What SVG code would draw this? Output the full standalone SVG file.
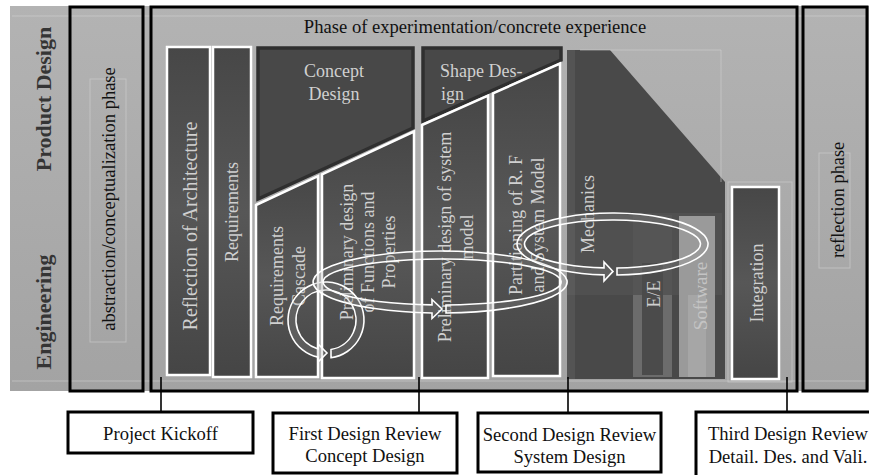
<svg xmlns="http://www.w3.org/2000/svg" width="869" height="475" viewBox="0 0 869 475">
<defs>
<linearGradient id="bg" x1="0" y1="0" x2="0" y2="1">
<stop offset="0" stop-color="#b3b3b3"/>
<stop offset="1" stop-color="#a3a3a3"/>
</linearGradient>
<linearGradient id="colg" x1="0" y1="0" x2="0" y2="1">
<stop offset="0" stop-color="#474747"/>
<stop offset="0.5" stop-color="#575757"/>
<stop offset="1" stop-color="#454545"/>
</linearGradient>
<style>
.frame{fill:none;stroke:#000;stroke-width:3}
.col{fill:url(#colg);stroke:#fff;stroke-width:2.5}
.dark{fill:#484848;stroke:#2f2f2f;stroke-width:3.5;stroke-linejoin:miter}
.lbl{font-family:"Liberation Serif","Times New Roman",serif;font-size:18px;fill:#d0d0d0}
.blk{font-family:"Liberation Serif","Times New Roman",serif;font-size:18.6px;fill:#111}
.side{font-family:"Liberation Serif","Times New Roman",serif;font-weight:bold;font-size:22px;fill:#353535}
.box{fill:#fff;stroke:#000;stroke-width:3}
.conn{stroke:#000;stroke-width:1.6;fill:none}
.ring{fill:#9a9a9a;fill-opacity:0.22;stroke:#fff;stroke-width:1.6;stroke-linejoin:miter}
.faint{stroke:#d4d4d4;stroke-width:1;fill:none;opacity:0.55}
</style>
</defs>

<g id="background">
<rect x="10" y="6" width="859" height="385" fill="url(#bg)"/>
<line class="faint" x1="12" y1="16" x2="866" y2="16"/>
<line class="faint" x1="12" y1="381" x2="866" y2="381"/>
</g>

<g id="side-labels">
<text class="side" transform="translate(43,99) rotate(-90)" text-anchor="middle" y="7.7">Product Design</text>
<text class="side" transform="translate(43,312) rotate(-90)" text-anchor="middle" y="7.7">Engineering</text>
</g>

<g id="abstraction-phase">
<rect class="frame" x="70" y="7" width="73" height="384"/>
<rect class="faint" x="90" y="79" width="36" height="263"/>
<text class="blk" transform="translate(108,199) rotate(-90)" text-anchor="middle" y="6.5" style="font-size:18.5px">abstraction/conceptualization phase</text>
</g>

<g id="experimentation-phase">
<rect class="frame" x="151" y="7" width="646" height="384"/>
<text class="blk" x="475" y="33" text-anchor="middle" style="font-size:18.6px">Phase of experimentation/concrete experience</text>
</g>

<g id="reflection-phase">
<rect class="frame" x="803" y="7" width="64" height="384"/>
<rect class="faint" x="819" y="153" width="31" height="115"/>
<text class="blk" transform="translate(838,200) rotate(-90)" text-anchor="middle" y="6.4" style="font-size:18.3px">reflection phase</text>
</g>

<g id="reflection-architecture">
<rect class="col" x="167" y="47" width="43" height="328"/>
<text class="lbl" transform="translate(190,226) rotate(-90)" text-anchor="middle" y="7" style="font-size:20px">Reflection of Architecture</text>
</g>

<g id="requirements">
<rect class="col" x="213" y="47" width="38" height="330"/>
<text class="lbl" transform="translate(232,212) rotate(-90)" text-anchor="middle" y="6.3">Requirements</text>
</g>

<g id="concept-design">
<polygon class="dark" points="258,48 413,48 413,128 258,199"/>
<text class="lbl" x="334" y="77" text-anchor="middle">Concept</text>
<text class="lbl" x="334" y="100" text-anchor="middle">Design</text>
</g>

<g id="shape-design">
<polygon class="dark" points="423,48 561,48 561,60 423,121"/>
<text class="lbl" x="440" y="77">Shape Des-</text>
<text class="lbl" x="441" y="100">ign</text>
</g>

<g id="requirements-cascade">
<polygon class="col" points="256,205 318,176.2 318,377 256,377"/>
<text class="lbl" transform="translate(288,276) rotate(-90)" text-anchor="middle"><tspan x="0" y="-4.7">Requirements</tspan><tspan x="0" y="17.3">Cascade</tspan></text>
</g>

<g id="preliminary-design-functions">
<polygon class="col" points="322,174.3 414,131.5 414,378 322,378"/>
<text class="lbl" transform="translate(368,252) rotate(-90)" text-anchor="middle"><tspan x="0" y="-14.7">Preliminary design</tspan><tspan x="0" y="6.3">of Functions and</tspan><tspan x="0" y="27.3">Properties</tspan></text>
</g>

<g id="preliminary-design-system">
<polygon class="col" points="422,125 488,95.6 488,378 422,378"/>
<text class="lbl" transform="translate(456,237) rotate(-90)" text-anchor="middle"><tspan x="0" y="-4.7">Preliminary design of system</tspan><tspan x="0" y="17.3">model</tspan></text>
</g>

<g id="partitioning">
<polygon class="col" points="493,93.4 560,63.5 560,376 493,376"/>
<text class="lbl" transform="translate(527,225) rotate(-90)" text-anchor="middle"><tspan x="0" y="-4.7">Partitioning of R. F</tspan><tspan x="0" y="17.3">and System Model</tspan></text>
</g>

<g id="mechanics">
<polygon points="567,50 610,50 725,182 725,379 567,379" fill="#494949"/>
<rect x="567" y="50" width="8" height="329" fill="#545454"/>
<polyline class="faint" points="580,50 721,50 721,182"/>
<rect x="567" y="213" width="155" height="82" fill="#ffffff" fill-opacity="0.04"/>
<text class="lbl" transform="translate(588,214) rotate(-90)" text-anchor="middle" y="6.3">Mechanics</text>
</g>

<g id="ee">
<rect x="633" y="215" width="39" height="80" fill="#555555"/>
<rect x="633" y="295" width="39" height="82" fill="#6c6c6c"/>
<rect x="642" y="263" width="21" height="112" fill="#4b4b4b"/>
<text class="lbl" transform="translate(654,294) rotate(-90)" text-anchor="middle" y="6.3">E/E</text>
</g>

<g id="software">
<rect x="679" y="216" width="36" height="161" fill="#9a9a9a"/>
<rect x="688" y="295" width="18" height="82" fill="#a6a6a6"/>
<text class="lbl" transform="translate(700,296) rotate(-90)" text-anchor="middle" y="6.6" style="font-size:19px;fill:#c4c4c4">Software</text>
</g>

<g id="integration">
<rect class="faint" x="728" y="182" width="64" height="200"/>
<rect class="col" x="732" y="187" width="47" height="192"/>
<text class="lbl" transform="translate(757,283) rotate(-90)" text-anchor="middle" y="6.3">Integration</text>
</g>

<g id="iteration-arrows">
<path class="ring" d="M331,357.67 A38,38 0 1 0 318,357.15 L318,362 L327,353 L318,344 L318,348.91 A30,30 0 1 1 331,349.58 Z"/>
<path class="ring" d="M446,312.97 A127,31 0 1 0 432,312.94 L432,318.5 L442,309 L432,299.5 L432,304.9 A119,23 0 1 1 446,304.97 Z"/>
<path class="ring" d="M617,274.97 A95.5,31 0 1 0 604,274.88 L604,281 L613,271.4 L604,262 L604,267.89 A88,24 0 1 1 617,267.97 Z"/>
</g>

<g id="connectors">
<line class="conn" x1="161" y1="377" x2="161" y2="412"/>
<line class="conn" x1="419" y1="377" x2="419" y2="413"/>
<line class="conn" x1="568" y1="377" x2="568" y2="413"/>
<line class="conn" x1="787" y1="377" x2="787" y2="412"/>
</g>

<g id="project-kickoff">
<rect class="box" x="68" y="412" width="185" height="41"/>
<text class="blk" x="160.5" y="440" text-anchor="middle">Project Kickoff</text>
</g>

<g id="first-design-review">
<rect class="box" x="273" y="413" width="184" height="60"/>
<text class="blk" x="365" y="440" text-anchor="middle">First Design Review</text>
<text class="blk" x="365" y="462" text-anchor="middle">Concept Design</text>
</g>

<g id="second-design-review">
<rect class="box" x="478" y="413" width="183" height="59"/>
<text class="blk" x="569.5" y="441" text-anchor="middle">Second Design Review</text>
<text class="blk" x="569.5" y="463" text-anchor="middle">System Design</text>
</g>

<g id="third-design-review">
<rect class="box" x="696" y="412" width="200" height="70"/>
<text class="blk" x="788" y="440" text-anchor="middle">Third Design Review</text>
<text class="blk" x="788" y="463" text-anchor="middle">Detail. Des. and Vali.</text>
</g>
</svg>
